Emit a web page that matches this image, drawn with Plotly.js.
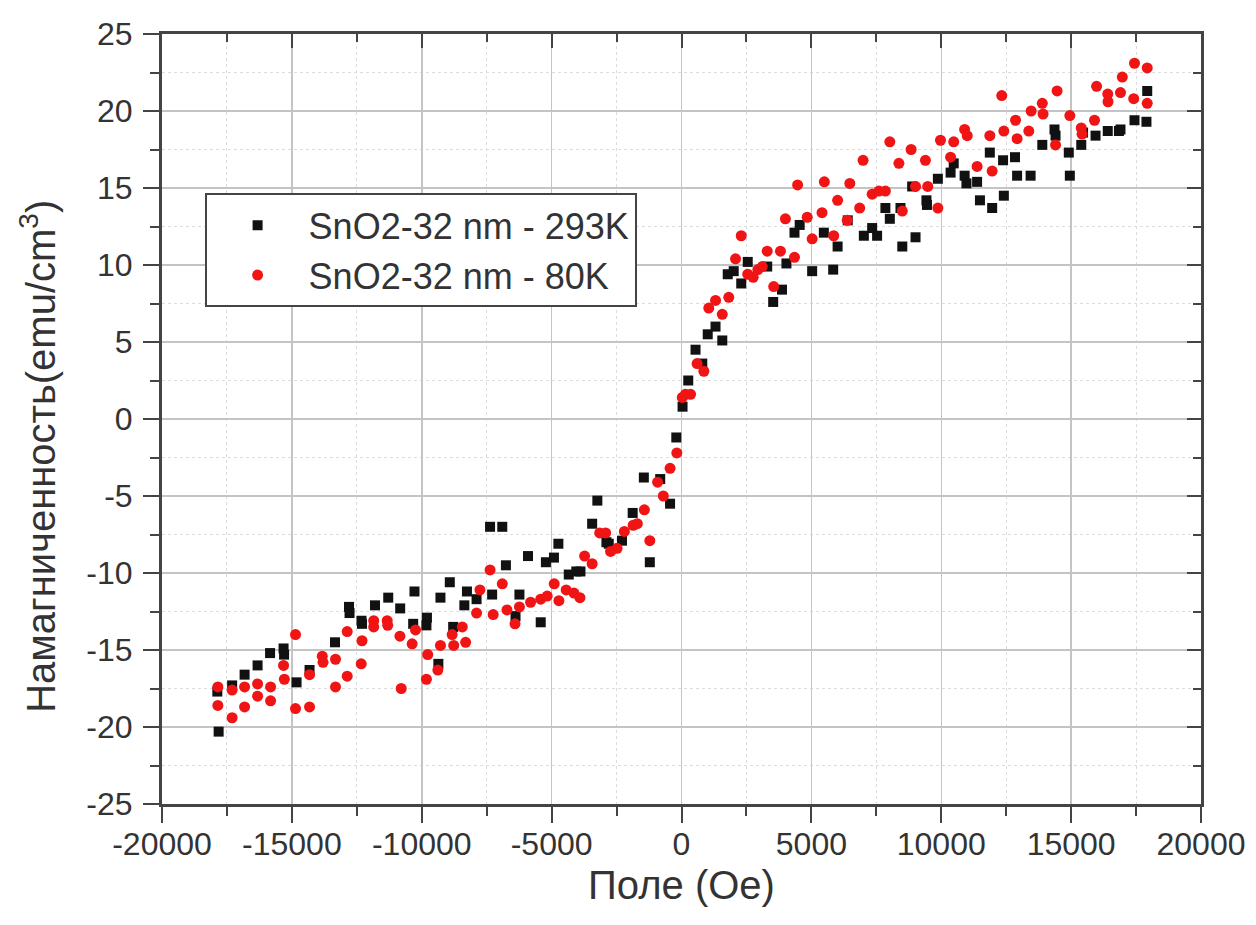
<!DOCTYPE html>
<html>
<head>
<meta charset="utf-8">
<script src="https://cdn.plot.ly/plotly-3.0.1.min.js"></script>
<style>html,body{margin:0;padding:0;background:#fff;}#chart{width:1256px;height:925px;}</style>
</head>
<body>
<div id="chart"></div>
<script>
// SnO2-32 nm - 293K (black)
const field293 = [-17820,-17870,-17300,-16820,-16320,-15840,-15320,-15300,-14820,-14320,-13340,-12800,-12780,-12320,-12300,-11800,-11290,-10830,-10280,-10330,-9800,-9820,-9360,-9280,-8920,-8790,-8360,-8260,-7890,-7290,-7370,-6900,-6760,-6390,-6240,-5910,-5420,-5220,-4910,-4740,-4340,-4050,-3890,-3440,-3240,-2890,-2800,-2290,-1880,-1450,-1220,-820,-440,-200,40,260,540,800,1010,1310,1570,1780,2010,2300,2550,3300,3530,3870,4040,4350,4550,5030,5480,5840,6010,6400,7020,7340,7530,7850,8020,8430,8500,8880,9010,9430,9450,9870,10360,10480,10900,10970,11380,11490,11870,11960,12380,12410,12840,12920,13440,13890,14360,14400,14910,14950,15390,15460,15940,16410,16840,16900,17440,17900,17930];
const mag293 = [-20.3,-17.7,-17.3,-16.6,-16.0,-15.2,-14.9,-15.3,-17.1,-16.3,-14.5,-12.2,-12.6,-13.1,-13.3,-12.1,-11.6,-12.3,-11.2,-13.3,-12.9,-13.4,-15.9,-11.6,-10.6,-13.5,-12.1,-11.2,-11.7,-11.4,-7.0,-7.0,-9.5,-12.8,-11.4,-8.9,-13.2,-9.3,-9.0,-8.1,-10.1,-9.9,-9.9,-6.8,-5.3,-8.0,-8.1,-7.9,-6.1,-3.8,-9.3,-3.9,-5.5,-1.2,0.8,2.5,4.5,3.6,5.5,6.0,5.1,9.4,9.6,8.8,10.2,9.9,7.6,8.4,10.1,12.1,12.6,9.6,12.1,9.7,11.2,12.9,11.9,12.4,11.9,13.7,13.0,13.7,11.2,15.1,11.8,14.2,13.9,15.6,16.0,16.6,15.8,15.3,15.4,14.2,17.3,13.7,16.8,14.5,17.0,15.8,15.8,17.8,18.8,18.4,17.3,15.8,17.8,18.6,18.4,18.7,18.7,18.8,19.4,19.3,21.3];

// SnO2-32 nm - 80K (red)
const field80 = [-17850,-17850,-17300,-17300,-16820,-16820,-16320,-16320,-15820,-15820,-15320,-15290,-14860,-14860,-14320,-14320,-13830,-13800,-13320,-13320,-12870,-12870,-12300,-12330,-11850,-11850,-11330,-11310,-10840,-10790,-10240,-10370,-9820,-9770,-9380,-9280,-8830,-8770,-8440,-8310,-7890,-7760,-7370,-7250,-6900,-6720,-6410,-6240,-5810,-5420,-5170,-4900,-4720,-4440,-4140,-3910,-3730,-3440,-3150,-2920,-2730,-2480,-2200,-1860,-1700,-1430,-1220,-920,-700,-440,-180,30,150,350,600,860,1050,1310,1570,1820,2080,2300,2550,2760,2940,3110,3300,3550,3810,4000,4350,4470,4840,5030,5410,5500,5860,6010,6480,6380,6860,6990,7340,7600,7850,8020,8370,8500,8840,9010,9390,9480,9870,9970,10360,10480,10900,11000,11380,11870,11960,12330,12410,12860,12920,13370,13460,13890,13920,14400,14460,14950,15390,15420,15900,15980,16410,16420,16900,16970,17410,17440,17930,17930];
const mag80 = [-17.4,-18.6,-17.6,-19.4,-17.4,-18.7,-17.2,-18.0,-17.4,-18.3,-16.0,-16.9,-14.0,-18.8,-18.7,-16.6,-15.4,-15.8,-15.6,-17.4,-13.8,-16.7,-14.4,-15.9,-13.1,-13.5,-13.1,-13.4,-14.1,-17.5,-13.7,-14.6,-16.9,-15.3,-16.3,-14.7,-14.0,-14.7,-13.5,-14.5,-12.6,-11.1,-9.8,-12.7,-10.7,-12.4,-13.3,-12.2,-11.9,-11.7,-11.5,-10.7,-11.8,-11.1,-11.3,-11.6,-8.9,-9.4,-7.4,-7.4,-8.6,-8.4,-7.3,-6.9,-6.8,-5.9,-7.9,-4.1,-5.0,-3.2,-2.2,1.4,1.6,1.6,3.6,3.1,7.2,7.7,6.8,7.9,10.4,11.9,9.4,9.2,9.7,9.9,10.9,8.6,10.9,13.0,10.5,15.2,13.1,11.7,13.4,15.4,11.9,14.2,15.3,12.9,13.7,16.8,14.6,14.8,14.8,18.0,16.6,13.5,17.5,15.1,16.8,15.1,13.7,18.1,17.0,18.0,18.8,18.4,16.4,18.4,16.1,21.0,18.7,19.4,18.2,18.7,20.0,20.5,19.8,17.8,21.3,19.7,18.9,18.5,19.4,21.6,21.1,20.6,21.2,22.2,20.8,23.1,22.8,20.5];

const xTickVals = [-20000,-15000,-10000,-5000,0,5000,10000,15000,20000];
const yTickVals = [-25,-20,-15,-10,-5,0,5,10,15,20,25];
const xTitle = 'Поле (Oe)';
const yTitle = 'Намагниченность(emu/cm<sup>3</sup>)';

const FONT = 'Liberation Sans, Arial, sans-serif';
const axisCol = '#444';
const tickFont = {family: FONT, size: 32, color: '#333'};

const traces = [
  {x: field293, y: mag293, type: 'scatter', mode: 'markers', name: 'SnO2-32 nm - 293K',
   marker: {symbol: 'square', size: 10, color: '#111'}},
  {x: field80, y: mag80, type: 'scatter', mode: 'markers', name: 'SnO2-32 nm - 80K',
   marker: {symbol: 'circle', size: 11, color: 'rgb(240,20,20)'}},
  {x: [], y: [], type: 'scatter', mode: 'markers', xaxis: 'x2', yaxis: 'y2', showlegend: false, hoverinfo: 'skip'}
];

const baseAxis = {
  showline: true, linecolor: axisCol, linewidth: 3,
  zeroline: false,
  showgrid: true, gridcolor: '#c4c4c4', gridwidth: 1.5,
  ticks: 'outside', ticklen: 16, tickwidth: 2, tickcolor: axisCol,
  tickfont: tickFont
};

const layout = {
  width: 1256, height: 925,
  paper_bgcolor: '#fff', plot_bgcolor: '#fff',
  margin: {l: 162, r: 55, t: 34, b: 121},
  showlegend: true,
  legend: {
    x: 0.041, y: 0.793, xanchor: 'left', yanchor: 'top',
    bordercolor: axisCol, borderwidth: 2, bgcolor: '#fff',
    font: {family: FONT, size: 36, color: '#333'},
    itemwidth: 92
  },
  annotations: [{
    text: yTitle, textangle: -90, showarrow: false,
    xref: 'paper', yref: 'paper', x: -0.1195, y: 0.452, xanchor: 'center', yanchor: 'middle',
    font: {family: FONT, size: 40, color: '#333'}
  }],
  xaxis: Object.assign({}, baseAxis, {
    range: [-20000, 20000], tickvals: xTickVals, ticktext: xTickVals.map(String),
    ticklabelstandoff: -6,
    minor: {dtick: 2500, tick0: 0, ticks: 'outside', ticklen: 9, tickwidth: 2, tickcolor: axisCol,
            showgrid: true, gridcolor: '#dcdcdc', griddash: 'dot', gridwidth: 1},
    title: {text: xTitle, font: {family: FONT, size: 40, color: '#333'}, standoff: 10}
  }),
  yaxis: Object.assign({}, baseAxis, {
    range: [-25, 25], tickvals: yTickVals, ticktext: yTickVals.map(String),
    ticklabelstandoff: 4,
    minor: {dtick: 2.5, tick0: 0, ticks: 'outside', ticklen: 9, tickwidth: 2, tickcolor: axisCol,
            showgrid: true, gridcolor: '#dcdcdc', griddash: 'dot', gridwidth: 1}
  }),
  xaxis2: {
    overlaying: 'x', side: 'top', matches: 'x', range: [-20000, 20000],
    showline: true, linecolor: axisCol, linewidth: 3, showgrid: false, zeroline: false,
    ticks: 'inside', ticklen: 14, tickwidth: 2, tickcolor: axisCol, tickvals: xTickVals,
    showticklabels: false,
    minor: {dtick: 2500, tick0: 0, ticks: 'inside', ticklen: 8, tickwidth: 2, tickcolor: axisCol, showgrid: false}
  },
  yaxis2: {
    overlaying: 'y', side: 'right', matches: 'y', range: [-25, 25],
    showline: true, linecolor: axisCol, linewidth: 3, showgrid: false, zeroline: false,
    ticks: 'inside', ticklen: 14, tickwidth: 2, tickcolor: axisCol, tickvals: yTickVals,
    showticklabels: false,
    minor: {dtick: 2.5, tick0: 0, ticks: 'inside', ticklen: 8, tickwidth: 2, tickcolor: axisCol, showgrid: false}
  }
};

Plotly.newPlot('chart', traces, layout, {displayModeBar: false, staticPlot: true});
</script>
</body>
</html>
